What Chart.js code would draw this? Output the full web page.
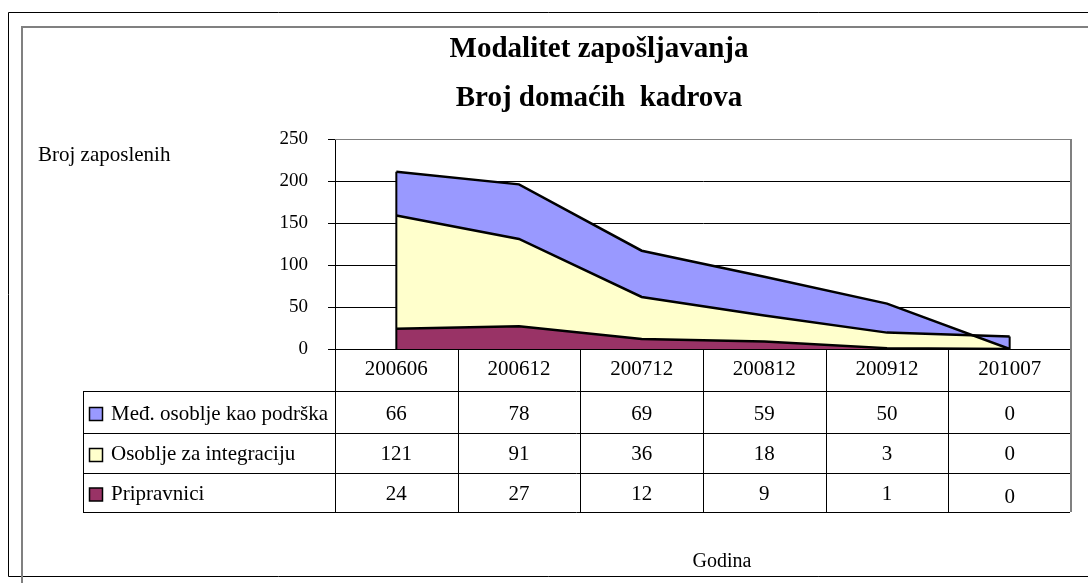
<!DOCTYPE html>
<html><head><meta charset="utf-8">
<script src="https://cdn.jsdelivr.net/npm/chart.js@4.4.1/dist/chart.umd.min.js"></script>
<style>html,body{margin:0;padding:0;background:#fff;overflow:hidden}canvas{display:block}</style>
</head><body>
<canvas id="c" width="1088" height="583"></canvas>
<script>
// ---- data ----
const naslov = ['Modalitet zapošljavanja', 'Broj domaćih  kadrova'];
const osY = 'Broj zaposlenih';
const osX = 'Godina';
const kategorije = ['200606', '200612', '200712', '200812', '200912', '201007'];
const serije = ['Međ. osoblje kao podrška', 'Osoblje za integraciju', 'Pripravnici'];
// values shown in the data table
const medOsoblje = [66, 78, 69, 59, 50, 0];
const integracija = [121, 91, 36, 18, 3, 0];
const pripravnici = [24, 27, 12, 9, 1, 0];
// boundaries of the areas as drawn in the plot
const linijaPripravnici = [24, 27, 12, 9, 1, 0];
const linijaIntegracija = [159, 131, 62, 40, 19.5, 15];
const linijaPodrska = [211, 196, 117, 86, 54, 0];
const yMin = 0, yMax = 250, yKorak = 50;
const boje = ['#9999FF', '#FFFFCC', '#993366'];

const SERIF = "'Liberation Serif', 'Times New Roman', serif";

const dodatak = {
  id: 'dodatak',
  beforeDraw(chart) {
    const ctx = chart.ctx;
    ctx.save();
    ctx.fillStyle = '#fff';
    ctx.fillRect(0, 0, chart.width, chart.height);
    // outer frame (black)
    ctx.strokeStyle = '#000'; ctx.lineWidth = 1;
    ctx.beginPath();
    ctx.moveTo(1100, 12.5); ctx.lineTo(8.5, 12.5); ctx.lineTo(8.5, 576.5); ctx.lineTo(1100, 576.5);
    ctx.stroke();
    // inner frame (gray)
    ctx.strokeStyle = '#808080'; ctx.lineWidth = 2;
    ctx.beginPath();
    ctx.moveTo(1100, 27); ctx.lineTo(22, 27); ctx.lineTo(22, 590);
    ctx.stroke();
    ctx.restore();
  },
  afterDatasetsDraw(chart) {
    const ctx = chart.ctx;
    const yS = chart.scales.y;
    const m2 = chart.getDatasetMeta(2).data, m1 = chart.getDatasetMeta(1).data;
    const base = yS.getPixelForValue(0);
    ctx.save();
    ctx.strokeStyle = '#000'; ctx.lineWidth = 2;
    const first = m2[0], last = m2[m2.length - 1], lastY = m1[m1.length - 1];
    ctx.beginPath();
    ctx.moveTo(first.x, Math.min(first.y, m1[0].y)); ctx.lineTo(first.x, base);
    ctx.moveTo(last.x, Math.min(last.y, lastY.y)); ctx.lineTo(last.x, base);
    ctx.stroke();
    ctx.restore();
  },
  afterDraw(chart) {
    const ctx = chart.ctx;
    const a = chart.chartArea;
    const xS = chart.scales.x;
    const n = kategorije.length;
    const w = (a.right - a.left) / n;
    ctx.save();
    // plot border top/right (gray)
    ctx.strokeStyle = '#808080';
    ctx.lineWidth = 1;
    ctx.beginPath(); ctx.moveTo(a.left, a.top + 0.5); ctx.lineTo(a.right, a.top + 0.5); ctx.stroke();
    ctx.lineWidth = 2;
    ctx.beginPath(); ctx.moveTo(a.right, a.top); ctx.lineTo(a.right, 512); ctx.stroke();

    // titles
    ctx.fillStyle = '#000';
    ctx.textAlign = 'center';
    ctx.textBaseline = 'alphabetic';
    ctx.font = 'bold 29px ' + SERIF;
    ctx.fillText(naslov[0], 599, 57);
    ctx.fillText(naslov[1], 599, 106);
    // y axis title
    ctx.font = '21px ' + SERIF;
    ctx.textAlign = 'left';
    ctx.fillText(osY, 38, 161);
    // x axis title
    ctx.textAlign = 'center';
    ctx.font = '20px ' + SERIF;
    ctx.fillText(osX, 722, 567);

    // table grid
    const rows = [391, 433, 473, 512];
    ctx.strokeStyle = '#000'; ctx.lineWidth = 1;
    ctx.beginPath();
    rows.forEach(r => { ctx.moveTo(83, r + 0.5); ctx.lineTo(a.right - 1, r + 0.5); });
    ctx.moveTo(83.5, rows[0]); ctx.lineTo(83.5, rows[3] + 1);
    for (let i = 0; i < n; i++) {
      const bx = Math.round(xS.getPixelForValue(i) - w / 2) + 0.5;
      ctx.moveTo(bx, a.bottom); ctx.lineTo(bx, rows[3] + 1);
    }
    ctx.stroke();

    // legend + values
    const tabela = [medOsoblje, integracija, pripravnici];
    const baze = [420, 460, 500];
    ctx.font = '21px ' + SERIF;
    for (let r = 0; r < 3; r++) {
      const cy = (rows[r] + rows[r + 1]) / 2;
      ctx.fillStyle = boje[r];
      ctx.fillRect(89.5, cy - 6.5 + 2, 13, 13);
      ctx.strokeStyle = '#000'; ctx.lineWidth = 1.5;
      ctx.strokeRect(89.5, cy - 6.5 + 2, 13, 13);
      ctx.fillStyle = '#000';
      ctx.textAlign = 'left';
      ctx.fillText(serije[r], 111, baze[r]);
      ctx.textAlign = 'center';
      tabela[r].forEach((v, i) => {
        ctx.fillText(String(v), xS.getPixelForValue(i), baze[r] + (r === 2 && i === n - 1 ? 3 : 0));
      });
    }
    ctx.restore();
  }
};

new Chart(document.getElementById('c'), {
  type: 'line',
  data: {
    labels: kategorije,
    datasets: [
      { label: serije[2], data: linijaPripravnici, fill: 'origin', backgroundColor: boje[2], borderColor: '#000', borderWidth: 2.5, pointRadius: 0, tension: 0, order: 3 },
      { label: serije[1], data: linijaIntegracija, fill: '-1', backgroundColor: boje[1], borderColor: '#000', borderWidth: 2.5, pointRadius: 0, tension: 0, order: 2 },
      { label: serije[0], data: linijaPodrska, fill: '-1', backgroundColor: boje[0], borderColor: '#000', borderWidth: 2.5, pointRadius: 0, tension: 0, order: 1 }
    ]
  },
  options: {
    responsive: false,
    animation: false,
    devicePixelRatio: 1,
    layout: { padding: { left: 0, right: 17, top: 139, bottom: 0 } },
    plugins: {
      legend: { display: false },
      title: { display: false },
      tooltip: { enabled: false },
      filler: { drawTime: 'beforeDatasetsDraw' }
    },
    scales: {
      x: {
        type: 'category',
        offset: true,
        grid: { display: true, drawOnChartArea: false, drawTicks: false, offset: true },
        border: { display: true, color: '#000', width: 1 },
        ticks: { color: '#000', font: { family: SERIF, size: 21 }, padding: 8, maxRotation: 0, autoSkip: false },
        afterFit(s) { s.height = 583 - 349; s.paddingLeft = 0; s.paddingRight = 0; }
      },
      y: {
        min: yMin, max: yMax,
        grid: { color: '#000', lineWidth: 1, drawTicks: true, tickLength: 7 },
        border: { display: true, color: '#000', width: 1 },
        ticks: { stepSize: yKorak, color: '#000', font: { family: SERIF, size: 19 }, padding: 20 },
        afterFit(s) { s.width = 335; s.paddingTop = 0; s.paddingBottom = 0; }
      }
    }
  },
  plugins: [dodatak]
});
</script>
</body></html>
